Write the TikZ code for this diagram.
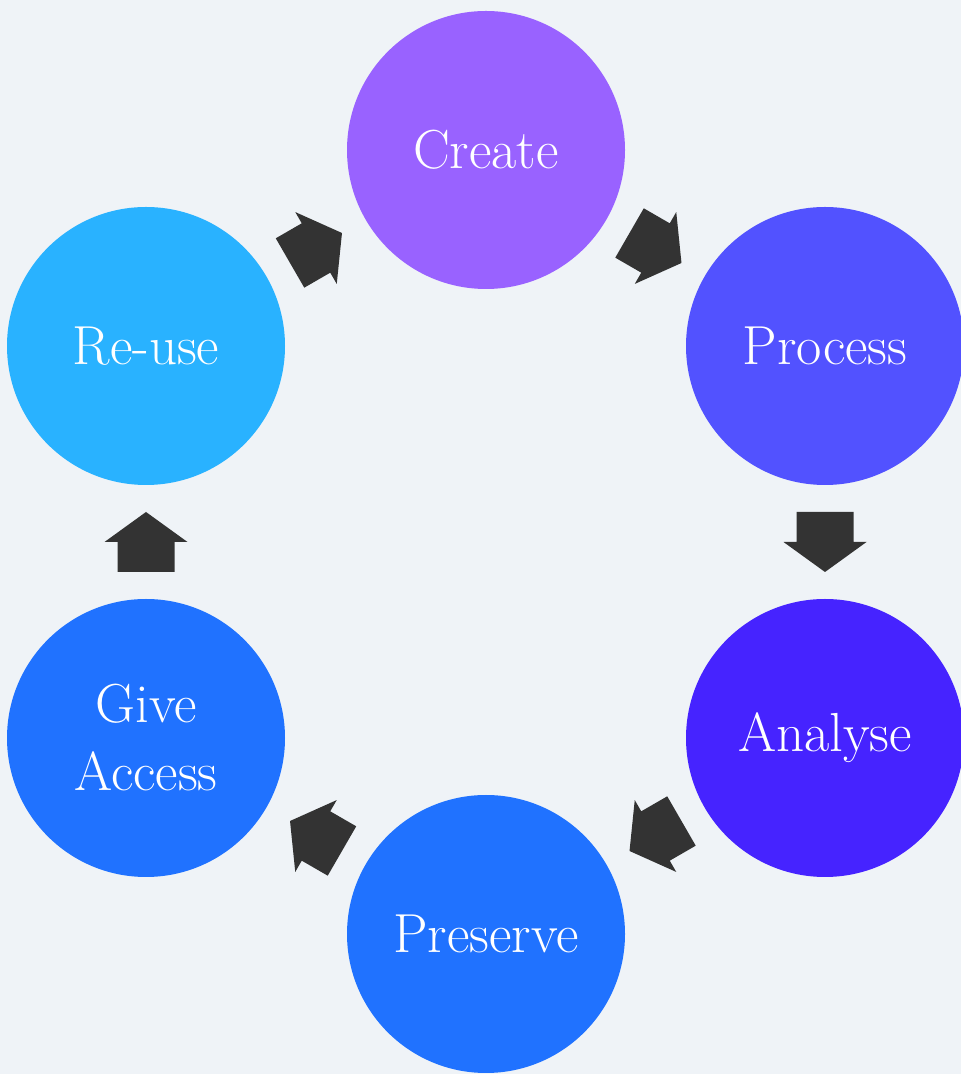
\documentclass[tikz,border=0pt]{standalone}
\usetikzlibrary{calc}
\definecolor{bgc}{HTML}{EFF3F7}
\definecolor{ccreate}{HTML}{9962FF}
\definecolor{cprocess}{HTML}{5252FF}
\definecolor{canalyse}{HTML}{4623FF}
\definecolor{cblue}{HTML}{2072FF}
\definecolor{creuse}{HTML}{29B2FF}
\definecolor{arrowc}{HTML}{333333}
\begin{document}
\begin{tikzpicture}[x=1pt,y=1pt,
  stage/.style={circle, minimum size=278pt, inner sep=0pt, text=white, align=center,
    font=\fontsize{55}{68}\selectfont},
  blockarrow/.pic={\fill[arrowc] (-30,-28.5) -- (0,-28.5) -- (0,-41.5) -- (30,0) -- (0,41.5) -- (0,28.5) -- (-30,28.5) -- cycle;}]
\useasboundingbox (0,0) rectangle (961,1074);
\fill[bgc] (0,0) rectangle (961,1074);
\clip (0,0) rectangle (961,1074);
\node[stage, fill=ccreate] (create) at (486,924) {Create};
\node[stage, fill=cprocess] (process) at (825,728) {Process};
\node[stage, fill=canalyse] (analyse) at (825,336) {Analyse};
\node[stage, fill=cblue] (preserve) at (486,140) {Preserve};
\node[stage, fill=cblue] (give) at (146,336) {Give\\Access};
\node[stage, fill=creuse] (reuse) at (146,728) {Re-use};
\pic[rotate=-30] at ($(create)!0.5!(process)$) {blockarrow};
\pic[rotate=-90] at ($(process)!0.5!(analyse)$) {blockarrow};
\pic[rotate=210] at ($(analyse)!0.5!(preserve)$) {blockarrow};
\pic[rotate=150] at ($(preserve)!0.5!(give)$) {blockarrow};
\pic[rotate=90] at ($(give)!0.5!(reuse)$) {blockarrow};
\pic[rotate=30] at ($(reuse)!0.5!(create)$) {blockarrow};
\end{tikzpicture}
\end{document}
